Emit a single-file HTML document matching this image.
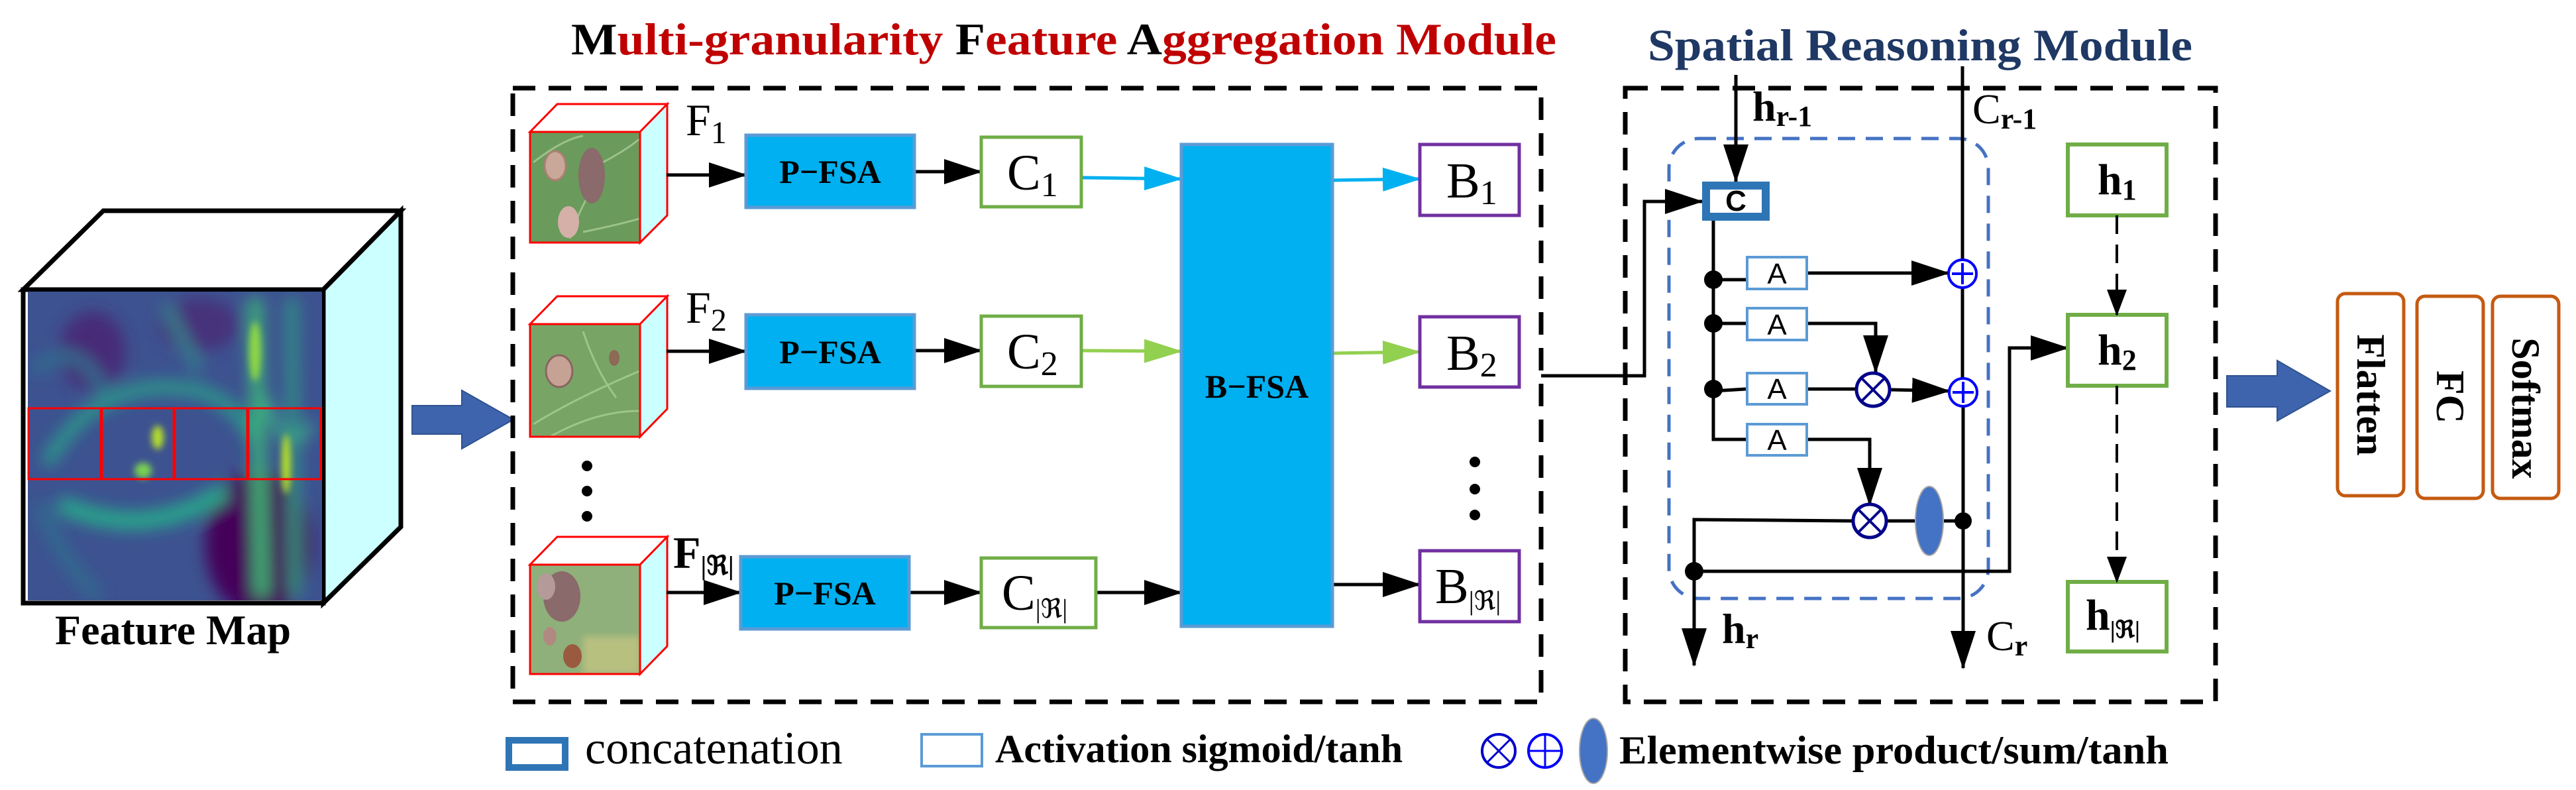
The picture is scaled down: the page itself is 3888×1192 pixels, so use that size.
<!DOCTYPE html>
<html><head><meta charset="utf-8"><style>
html,body{margin:0;padding:0;background:#fff}
svg{display:block;font-family:"Times New Roman","Liberation Serif","Times","DejaVu Serif",serif}
svg text{font-family:"Times New Roman","Liberation Serif","Times","DejaVu Serif",serif}
svg text.sans{font-family:"Liberation Sans","Arial","DejaVu Sans",sans-serif}
</style></head><body>
<svg width="3888" height="1192" viewBox="0 0 3888 1192" xmlns="http://www.w3.org/2000/svg" font-family="Times New Roman, Liberation Serif, serif">
<defs>
<marker id="ak" markerUnits="userSpaceOnUse" markerWidth="60" markerHeight="40" refX="56" refY="20" orient="auto"><path d="M0,1 L58,20 L0,39 Z" fill="#000"/></marker>
<marker id="ac" markerUnits="userSpaceOnUse" markerWidth="60" markerHeight="40" refX="56" refY="20" orient="auto"><path d="M0,2 L58,20 L0,38 Z" fill="#00b0f0"/></marker>
<marker id="ag" markerUnits="userSpaceOnUse" markerWidth="60" markerHeight="40" refX="56" refY="20" orient="auto"><path d="M0,2 L58,20 L0,38 Z" fill="#92d050"/></marker>
<marker id="as" markerUnits="userSpaceOnUse" markerWidth="40" markerHeight="32" refX="38" refY="16" orient="auto"><path d="M0,1 L40,16 L0,31 Z" fill="#000"/></marker>
<filter id="bl" x="-20%" y="-20%" width="140%" height="140%"><feGaussianBlur stdDeviation="12"/></filter>
<filter id="bl2"><feGaussianBlur stdDeviation="5"/></filter>
<clipPath id="hm"><rect x="42" y="440" width="444" height="466"/></clipPath>
<clipPath id="l1"><rect x="801" y="200" width="164" height="166"/></clipPath>
<clipPath id="l2"><rect x="801" y="490" width="164" height="168"/></clipPath>
<clipPath id="l3"><rect x="801" y="853" width="164" height="163"/></clipPath>
</defs>

<polygon points="35,437 156,318 605,318 488,437" fill="#fff" stroke="#000" stroke-width="7"/>
<polygon points="488,437 605,318 605,795 488,910" fill="#ccffff" stroke="#000" stroke-width="7"/>
<rect x="35" y="437" width="453" height="473" fill="#fff" stroke="#000" stroke-width="7"/>
<g clip-path="url(#hm)">
<rect x="42" y="440" width="444" height="466" fill="#3d5290"/>
<g filter="url(#bl)">
<ellipse cx="390" cy="820" rx="80" ry="110" fill="#45065a"/>
<ellipse cx="140" cy="530" rx="50" ry="60" fill="#472a78"/>
<ellipse cx="300" cy="490" rx="60" ry="40" fill="#46307c"/>
<path d="M50,560 Q120,500 160,600 M60,760 Q100,860 150,900" stroke="#2f6e8e" stroke-width="18" fill="none"/>
<path d="M70,700 Q150,560 300,590 Q360,610 380,660" stroke="#2a9a8a" stroke-width="20" fill="none"/>
<path d="M90,760 Q220,820 340,740" stroke="#28a88a" stroke-width="26" fill="none"/>
<path d="M250,460 L300,560" stroke="#2d8a8c" stroke-width="14" fill="none"/>
<path d="M385,450 L395,900" stroke="#3ab878" stroke-width="20" fill="none"/>
<path d="M440,450 L445,900" stroke="#2e9a84" stroke-width="16" fill="none"/>
<path d="M400,600 Q430,700 470,640" stroke="#3aa888" stroke-width="14" fill="none"/>
</g>
<g filter="url(#bl2)">
<ellipse cx="238" cy="660" rx="9" ry="18" fill="#b5de2b"/>
<ellipse cx="216" cy="710" rx="13" ry="12" fill="#7ad151"/>
<ellipse cx="385" cy="530" rx="9" ry="45" fill="#8fd744"/>
<ellipse cx="432" cy="700" rx="7" ry="45" fill="#b5de2b"/>
</g>
</g>
<g fill="none" stroke="#ff0000" stroke-width="3">
<rect x="43" y="616" width="109" height="107"/>
<rect x="154" y="616" width="108" height="107"/>
<rect x="264" y="616" width="109" height="107"/>
<rect x="375" y="616" width="109" height="107"/>
</g>
<text x="261" y="972" font-size="64" font-weight="bold" text-anchor="middle">Feature Map</text>

<polygon points="622,612 697,612 697,589 775,633 697,677 697,655 622,655" fill="#3e64ad" stroke="#2f528f" stroke-width="2"/>

<text x="862" y="82" font-size="68" font-weight="bold" fill="#c00000" textLength="1487" lengthAdjust="spacingAndGlyphs"><tspan fill="#000">M</tspan>ulti-granularity <tspan fill="#000">F</tspan>eature <tspan fill="#000">A</tspan>ggregation Module</text>

<rect x="774" y="133" width="1552" height="926" fill="none" stroke="#000" stroke-width="7" stroke-dasharray="34,20"/>

<g stroke="#ff0000" stroke-width="3">
<polygon points="800,199 841,157 1007,157 966,199" fill="#fff"/>
<polygon points="966,199 1007,157 1007,325 966,366" fill="#ccffff"/>
<polygon points="800,489 841,447 1007,447 966,489" fill="#fff"/>
<polygon points="966,489 1007,447 1007,617 966,659" fill="#ccffff"/>
<polygon points="800,852 841,810 1007,810 966,852" fill="#fff"/>
<polygon points="966,852 1007,810 1007,975 966,1017" fill="#ccffff"/>
</g>
<g clip-path="url(#l1)">
<rect x="800" y="199" width="166" height="167" fill="#6a9a5c"/>
<path d="M805,245 Q850,210 880,205 M860,360 Q880,300 900,280 M900,250 Q940,230 965,210 M880,350 Q930,340 965,330" stroke="#9cc28a" stroke-width="3" fill="none"/>
<ellipse cx="838" cy="250" rx="16" ry="22" fill="#c9a89a" stroke="#a88070" stroke-width="3"/>
<ellipse cx="893" cy="265" rx="20" ry="42" fill="#8a6a6a"/>
<ellipse cx="858" cy="335" rx="16" ry="24" fill="#d4b0a8"/>
</g>
<g clip-path="url(#l2)">
<rect x="800" y="489" width="166" height="170" fill="#78a566"/>
<path d="M805,640 Q870,600 965,560 M830,659 Q900,620 965,620 M880,500 Q900,560 930,600" stroke="#9ec58a" stroke-width="3" fill="none"/>
<ellipse cx="844" cy="560" rx="20" ry="24" fill="#c6a294" stroke="#8a6560" stroke-width="3"/>
<ellipse cx="927" cy="540" rx="8" ry="12" fill="#8d6a55"/>
</g>
<g clip-path="url(#l3)">
<rect x="800" y="852" width="166" height="165" fill="#8fb07a"/>
<rect x="880" y="960" width="86" height="57" fill="#b8c080" filter="url(#bl2)"/>
<ellipse cx="848" cy="900" rx="28" ry="38" fill="#8a6a6a"/>
<ellipse cx="824" cy="885" rx="14" ry="20" fill="#b59a9a"/>
<ellipse cx="830" cy="960" rx="10" ry="14" fill="#b08a80"/>
<ellipse cx="864" cy="990" rx="14" ry="18" fill="#9a5a40"/>
</g>
<g stroke="#ff0000" stroke-width="3" fill="none">
<rect x="800" y="199" width="166" height="167"/>
<rect x="800" y="489" width="166" height="170"/>
<rect x="800" y="852" width="166" height="165"/>
</g>

<text x="1035" y="204" font-size="68">F<tspan font-size="48" dy="12">1</tspan></text>
<text x="1035" y="487" font-size="68">F<tspan font-size="48" dy="12">2</tspan></text>
<text x="1016" y="857" font-size="68" font-weight="bold">F<tspan font-size="40" dy="10">|ℜ|</tspan></text>

<circle cx="886" cy="703" r="8" fill="#000"/><circle cx="886" cy="741" r="8" fill="#000"/><circle cx="886" cy="779" r="8" fill="#000"/>

<g stroke="#000" stroke-width="5" fill="none">
<line x1="1006" y1="264" x2="1126" y2="264" marker-end="url(#ak)"/>
<line x1="1006" y1="530" x2="1126" y2="530" marker-end="url(#ak)"/>
<line x1="1006" y1="894" x2="1118" y2="894" marker-end="url(#ak)"/>
<line x1="1380" y1="259" x2="1481" y2="259" marker-end="url(#ak)"/>
<line x1="1380" y1="529" x2="1481" y2="529" marker-end="url(#ak)"/>
<line x1="1372" y1="894" x2="1481" y2="894" marker-end="url(#ak)"/>
<line x1="1654" y1="894" x2="1783" y2="894" marker-end="url(#ak)"/>
<line x1="2011" y1="882" x2="2143" y2="882" marker-end="url(#ak)"/>
</g>
<line x1="1632" y1="268" x2="1783" y2="270" stroke="#00b0f0" stroke-width="5" marker-end="url(#ac)"/>
<line x1="1632" y1="529" x2="1783" y2="530" stroke="#92d050" stroke-width="5" marker-end="url(#ag)"/>
<line x1="2011" y1="272" x2="2143" y2="270" stroke="#00b0f0" stroke-width="5" marker-end="url(#ac)"/>
<line x1="2011" y1="533" x2="2143" y2="531" stroke="#92d050" stroke-width="5" marker-end="url(#ag)"/>

<g fill="#00b0f0" stroke="#5b9bd5" stroke-width="5">
<rect x="1126" y="204" width="254" height="109"/>
<rect x="1126" y="475" width="254" height="111"/>
<rect x="1118" y="840" width="254" height="109"/>
<rect x="1783" y="218" width="228" height="727"/>
</g>
<g font-size="50" font-weight="bold" text-anchor="middle">
<text x="1253" y="276">P−FSA</text>
<text x="1253" y="548">P−FSA</text>
<text x="1245" y="912">P−FSA</text>
<text x="1897" y="600">B−FSA</text>
</g>

<g fill="#fff" stroke="#70ad47" stroke-width="5">
<rect x="1481" y="207" width="151" height="105"/>
<rect x="1481" y="477" width="151" height="106"/>
<rect x="1481" y="842" width="173" height="105"/>
</g>
<text x="1520" y="286" font-size="76">C<tspan font-size="52" dy="10">1</tspan></text>
<text x="1520" y="556" font-size="76">C<tspan font-size="52" dy="10">2</tspan></text>
<text x="1512" y="920" font-size="76">C<tspan font-size="40" dy="12">|ℜ|</tspan></text>

<g fill="#fff" stroke="#7030a0" stroke-width="5">
<rect x="2143" y="218" width="150" height="107"/>
<rect x="2143" y="478" width="150" height="106"/>
<rect x="2143" y="831" width="150" height="107"/>
</g>
<text x="2183" y="298" font-size="76">B<tspan font-size="52" dy="10">1</tspan></text>
<text x="2183" y="558" font-size="76">B<tspan font-size="52" dy="10">2</tspan></text>
<text x="2166" y="910" font-size="76">B<tspan font-size="40" dy="10">|ℜ|</tspan></text>
<circle cx="2226" cy="697" r="8" fill="#000"/><circle cx="2226" cy="738" r="8" fill="#000"/><circle cx="2226" cy="777" r="8" fill="#000"/>

<text x="2487" y="91" font-size="68" font-weight="bold" fill="#1f3864" textLength="822" lengthAdjust="spacingAndGlyphs">Spatial Reasoning Module</text>
<rect x="2453" y="133" width="891" height="926" fill="none" stroke="#000" stroke-width="7" stroke-dasharray="34,20"/>
<rect x="2519" y="209" width="482" height="694" rx="45" fill="none" stroke="#4472c4" stroke-width="5" stroke-dasharray="26,16"/>

<g stroke="#000" stroke-width="5" fill="none">
<polyline points="2326,567 2482,567 2482,304 2569,304" marker-end="url(#ak)"/>
<line x1="2620" y1="113" x2="2620" y2="274" marker-end="url(#ak)"/>
<line x1="2962" y1="100" x2="2962" y2="392"/>
<line x1="2962" y1="434" x2="2962" y2="571"/>
<line x1="2963" y1="613" x2="2963" y2="1008" marker-end="url(#ak)"/>
<polyline points="2586,333 2586,663 2635,663"/>
<line x1="2586" y1="422" x2="2635" y2="422"/>
<line x1="2586" y1="488" x2="2635" y2="488"/>
<line x1="2586" y1="590" x2="2635" y2="587"/>
<line x1="2729" y1="412" x2="2941" y2="412" marker-end="url(#ak)"/>
<polyline points="2729,488 2831,488 2831,562" marker-end="url(#ak)"/>
<line x1="2729" y1="587" x2="2801" y2="587"/>
<line x1="2853" y1="588" x2="2942" y2="590" marker-end="url(#ak)"/>
<polyline points="2729,663 2822,663 2822,762" marker-end="url(#ak)"/>
<line x1="2963" y1="786" x2="2933" y2="786"/>
<line x1="2891" y1="786" x2="2846" y2="786"/>
<polyline points="2798,786 2557,784 2557,1004" marker-end="url(#ak)"/>
<polyline points="2557,862 3033,862 3033,525 3121,525" marker-end="url(#ak)"/>
</g>
<g fill="#000">
<circle cx="2586" cy="422" r="14"/><circle cx="2586" cy="488" r="14"/><circle cx="2586" cy="587" r="14"/>
<circle cx="2963" cy="786" r="13"/><circle cx="2557" cy="862" r="14"/>
</g>
<rect x="2575" y="280" width="90" height="47" fill="#fff" stroke="#2e75b6" stroke-width="12"/>
<text class="sans" x="2620" y="318" font-size="44" font-weight="bold" text-anchor="middle">C</text>
<g fill="#fff" stroke="#5b9bd5" stroke-width="4">
<rect x="2637" y="388" width="90" height="48"/>
<rect x="2637" y="465" width="90" height="48"/>
<rect x="2637" y="563" width="90" height="47"/>
<rect x="2637" y="640" width="90" height="47"/>
</g>
<g font-size="44" text-anchor="middle">
<text class="sans" x="2682" y="428">A</text><text class="sans" x="2682" y="505">A</text><text class="sans" x="2682" y="602">A</text><text class="sans" x="2682" y="679">A</text>
</g>
<g fill="#fff" stroke="#0000ff" stroke-width="4">
<circle cx="2962" cy="413" r="21"/><circle cx="2963" cy="592" r="21"/>
</g>
<g stroke="#0000ff" stroke-width="4">
<line x1="2946" y1="413" x2="2978" y2="413"/><line x1="2962" y1="397" x2="2962" y2="429"/>
<line x1="2947" y1="592" x2="2979" y2="592"/><line x1="2963" y1="576" x2="2963" y2="608"/>
</g>
<g fill="#fff" stroke="#00008b" stroke-width="5">
<circle cx="2827" cy="588" r="25"/><circle cx="2822" cy="786" r="25"/>
</g>
<g stroke="#00008b" stroke-width="4">
<line x1="2811" y1="572" x2="2843" y2="604"/><line x1="2843" y1="572" x2="2811" y2="604"/>
<line x1="2806" y1="770" x2="2838" y2="802"/><line x1="2838" y1="770" x2="2806" y2="802"/>
</g>
<ellipse cx="2912" cy="786" rx="21" ry="52" fill="#4472c4" stroke="#a5a5a5" stroke-width="2"/>

<g font-size="64" font-weight="bold">
<text x="2645" y="182">h<tspan font-size="44" dy="8">r-1</tspan></text>
<text x="2977" y="186" font-weight="normal">C<tspan font-size="44" dy="8" font-weight="bold">r-1</tspan></text>
<text x="2599" y="970">h<tspan font-size="44" dy="8">r</tspan></text>
<text x="2998" y="981" font-weight="normal">C<tspan font-size="44" dy="8" font-weight="bold">r</tspan></text>
</g>

<g fill="#fff" stroke="#70ad47" stroke-width="6">
<rect x="3121" y="218" width="149" height="107"/>
<rect x="3121" y="475" width="149" height="107"/>
<rect x="3121" y="878" width="149" height="105"/>
</g>
<g font-size="66" font-weight="bold">
<text x="3166" y="293">h<tspan font-size="44" dy="8">1</tspan></text>
<text x="3166" y="550">h<tspan font-size="44" dy="8">2</tspan></text>
<text x="3148" y="950">h<tspan font-size="36" dy="12">|ℜ|</tspan></text>
</g>
<g stroke="#000" stroke-width="4" fill="none" stroke-dasharray="28,16">
<line x1="3195" y1="325" x2="3195" y2="475" marker-end="url(#as)"/>
<line x1="3195" y1="582" x2="3195" y2="878" marker-end="url(#as)"/>
</g>

<polygon points="3361,567 3437,567 3437,544 3517,590 3437,635 3437,614 3361,614" fill="#3e64ad" stroke="#2f528f" stroke-width="2"/>

<g fill="#fff" stroke="#c55a11" stroke-width="5">
<rect x="3528" y="443" width="100" height="305" rx="12"/>
<rect x="3648" y="447" width="100" height="305" rx="12"/>
<rect x="3762" y="447" width="100" height="305" rx="12"/>
</g>
<g font-size="60" font-weight="bold" text-anchor="middle">
<text transform="translate(3558,596) rotate(90)">Flatten</text>
<text transform="translate(3678,599) rotate(90)">FC</text>
<text transform="translate(3792,616) rotate(90)">Softmax</text>
</g>

<rect x="768" y="1117" width="85" height="41" fill="#fff" stroke="#2e75b6" stroke-width="10"/>
<text x="883" y="1152" font-size="70">concatenation</text>
<rect x="1391" y="1108" width="91" height="48" fill="#fff" stroke="#5b9bd5" stroke-width="4"/>
<text x="1502" y="1150" font-size="60" font-weight="bold">Activation sigmoid/tanh</text>
<circle cx="2262" cy="1133" r="25" fill="#fff" stroke="#0000cc" stroke-width="4"/>
<line x1="2245" y1="1116" x2="2279" y2="1150" stroke="#0000cc" stroke-width="3"/>
<line x1="2279" y1="1116" x2="2245" y2="1150" stroke="#0000cc" stroke-width="3"/>
<circle cx="2332" cy="1133" r="25" fill="#fff" stroke="#0000ff" stroke-width="4"/>
<line x1="2308" y1="1133" x2="2356" y2="1133" stroke="#0000ff" stroke-width="3"/>
<line x1="2332" y1="1109" x2="2332" y2="1157" stroke="#0000ff" stroke-width="3"/>
<ellipse cx="2405" cy="1133" rx="21" ry="49" fill="#4472c4" stroke="#a5a5a5" stroke-width="2"/>
<text x="2444" y="1152" font-size="60" font-weight="bold" textLength="829" lengthAdjust="spacingAndGlyphs">Elementwise product/sum/tanh</text>
</svg>
</body></html>
